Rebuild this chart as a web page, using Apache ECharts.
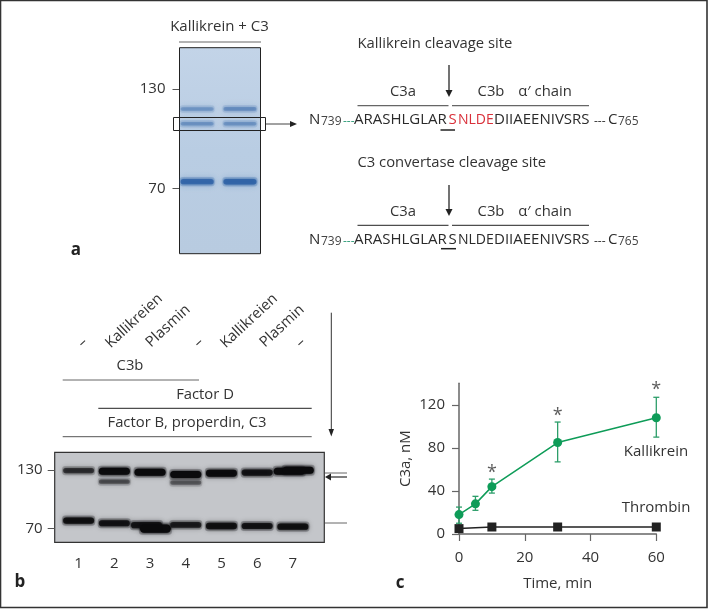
<!DOCTYPE html>
<html>
<head>
<meta charset="utf-8">
<script src="https://cdn.jsdelivr.net/npm/echarts@6/dist/echarts.min.js"></script>
<style>
  html, body { margin: 0; padding: 0; background: #fff; }
  #chart { width: 710px; height: 609px; }
</style>
</head>
<body>
<div id="chart"></div>
<script>
// panel c, time course
var times = [0, 5, 10, 30, 60]
var kallikrein = [18, 28, 44, 85, 108]
var kallikreinHigh = [25, 35, 51, 104, 127]
var kallikreinLow = [10, 22, 38, 67, 90]
var thrombinTimes = [0, 10, 30, 60]
var thrombin = [5, 6.5, 6.5, 6.5]
var stars = [[10, 57], [30, 110], [60, 134]]
var xTicks = [0, 20, 40, 60]
var yTicks = [0, 40, 80, 120]

// gels: [lane, kDa, strength]
var kdaTicks = [70, 130]
var laneNumbers = [1, 2, 3, 4, 5, 6, 7]
var gelABands = [
  [1, 118, 0.3], [2, 118, 0.36],
  [1, 109, 0.32], [2, 109, 0.32],
  [1, 74, 0.8], [2, 74, 0.85]
]
var gelBBands = [
  [1, 129.3, 0.55], [2, 128.6, 1], [3, 127.6, 1], [4, 125.2, 1], [5, 126.6, 0.95], [6, 127.3, 0.8],
  [6.9, 128.6, 1], [7.15, 129.6, 1],
  [2, 118, 0.38], [4, 117, 0.32],
  [1, 78.2, 0.85], [2, 75.5, 0.8], [2.9, 73.5, 0.8], [3.15, 70, 1.3], [4, 73.8, 0.7], [5, 72.7, 0.85], [6, 72.7, 0.8], [7, 72, 0.85]
]

var FONT = '"Open Sans", sans-serif'
var TEXT = '#333'
var SIZE = 14.8

function label(x, y, text, size, extra) {
  return {
    type: 'text', x: x, y: y, silent: true,
    style: Object.assign({
      text: text, fill: TEXT, font: (size || SIZE) + 'px ' + FONT,
      textAlign: 'center', textVerticalAlign: 'middle'
    }, extra || {})
  }
}

function rotated(x, y, text) {
  var el = label(x, y, text, SIZE)
  el.rotation = Math.PI * 43 / 180
  return el
}

function seg(x1, y1, x2, y2, color, width) {
  return {
    type: 'line', silent: true,
    shape: { x1: x1, y1: y1, x2: x2, y2: y2 },
    style: { stroke: color || '#555', lineWidth: width || 1 }
  }
}

function tri(points, color) {
  return { type: 'polygon', silent: true, shape: { points: points }, style: { fill: color || '#222' } }
}

// one sequence row, pieces are placed one by one to follow the original spacing
function sequence(y, red) {
  var out = []
  function piece(x, text, color, size) {
    out.push(label(x, y + (size < 13 ? 2 : 0), text, size || 15, { textAlign: 'left', fill: color || '#2a2a2a' }))
  }
  piece(309, 'N')
  piece(321, '739', '#444', 12)
  piece(343, '---', '#2f9c78', 12)
  piece(354, 'ARASHLGLAR')
  piece(448.5, 'S', red ? '#d9303a' : '#2a2a2a')
  piece(458, 'NLDE', red ? '#d9303a' : '#2a2a2a', 14)
  piece(494, 'DIIAEENIVSRS')
  piece(594, '---', '#333', 12)
  piece(608, 'C')
  piece(618, '765', '#444', 12)
  return out
}

var graphics = [
  // page frame
  { type: 'rect', silent: true, shape: { x: 0.5, y: 0.5, width: 706.5, height: 607 }, style: { fill: 'none', stroke: '#333', lineWidth: 1.6 } },

  // panel a
  label(219.5, 27, 'Kallikrein + C3', 15),
  seg(179, 42, 261, 42, '#666'),
  { type: 'rect', silent: true, z: 10, shape: { x: 173.5, y: 117.5, width: 92, height: 13 }, style: { fill: 'none', stroke: '#222', lineWidth: 1 } },
  seg(266, 124, 292, 124, '#444'),
  tri([[290, 121], [297, 124], [290, 127]]),
  label(76, 250, 'a', 17, { font: 'bold 17px ' + FONT, fill: '#222' }),

  label(357.5, 44, 'Kallikrein cleavage site', SIZE, { textAlign: 'left' }),
  seg(449, 65, 449, 93, '#444', 1.5),
  tri([[445.5, 90], [452.5, 90], [449, 97]]),
  label(403, 92, 'C3a'),
  label(491, 92, 'C3b'),
  label(545, 92, 'α′ chain'),
  seg(357.5, 105.7, 448.5, 105.7, '#666', 1.2),
  seg(452, 105.7, 589, 105.7, '#666', 1.2),
  seg(440.5, 130, 455, 130, '#222', 1.5)
].concat(sequence(120, true), [
  label(357.5, 163, 'C3 convertase cleavage site', SIZE, { textAlign: 'left' }),
  seg(449, 185, 449, 212, '#444', 1.5),
  tri([[445.5, 209], [452.5, 209], [449, 216]]),
  label(403, 212, 'C3a'),
  label(491, 212, 'C3b'),
  label(545, 212, 'α′ chain'),
  seg(357.5, 225.3, 448.5, 225.3, '#222', 1),
  seg(452, 225.3, 589, 225.3, '#222', 1),
  seg(441, 248.7, 456, 248.7, '#222', 1.5)
], sequence(240, false), [
  // panel b
  rotated(82.7, 342.7, '–'),
  rotated(134, 321, 'Kallikreien'),
  rotated(168, 326, 'Plasmin'),
  rotated(198.7, 342.7, '–'),
  rotated(249, 321, 'Kallikreien'),
  rotated(282, 326, 'Plasmin'),
  rotated(300.7, 342.7, '–'),
  label(130, 366, 'C3b'),
  seg(62.7, 380, 199, 380, '#666'),
  label(205, 395, 'Factor D'),
  seg(98.3, 408.3, 311.7, 408.3, '#222'),
  label(187, 423, 'Factor B, properdin, C3'),
  seg(62.7, 436.7, 311.7, 436.7, '#555'),
  seg(331.3, 312.7, 331.3, 431, '#333'),
  tri([[328.5, 429], [334, 429], [331.3, 436.5]]),
  seg(325, 473, 347, 473, '#666'),
  seg(328, 477, 347, 477, '#555', 1.5),
  tri([[331, 473.5], [331, 480.5], [325, 477]]),
  seg(325, 523, 347, 523, '#666'),
  label(20, 582, 'b', 17, { font: 'bold 17px ' + FONT, fill: '#222' }),

  // panel c
  label(656, 452, 'Kallikrein', 15),
  label(656, 508, 'Thrombin', 15),
  label(400, 583, 'c', 17, { font: 'bold 17px ' + FONT, fill: '#222' })
])

// a blurred haze with a sharper core, so the bands read like stained protein
function bandRenderer(bandWidth, color, blur, baseHeight) {
  return function (params, api) {
    var p = api.coord([api.value(0), api.value(1)])
    var s = api.value(2)
    var h = Math.max(3, baseHeight * (0.4 + 0.6 * s))
    return {
      type: 'group',
      children: [
        {
          type: 'rect',
          shape: { x: p[0] - bandWidth / 2 - 1, y: p[1] - h / 2 - 2, width: bandWidth + 2, height: h + 4, r: 3 },
          style: { fill: color, opacity: 0.22 * Math.min(1, s + 0.2), shadowBlur: blur * 2, shadowColor: color }
        },
        {
          type: 'rect',
          shape: { x: p[0] - bandWidth / 2, y: p[1] - h / 2, width: bandWidth, height: h, r: h / 2 },
          style: { fill: color, opacity: Math.min(1, s), shadowBlur: blur, shadowColor: color }
        }
      ]
    }
  }
}

function errorBars(params, api) {
  var top = api.coord([api.value(0), api.value(1)])
  var bottom = api.coord([api.value(0), api.value(2)])
  var cap = 3
  var style = { stroke: '#2d9e6a', lineWidth: 1.3, fill: 'none' }
  return {
    type: 'group',
    children: [
      { type: 'line', shape: { x1: top[0], y1: top[1], x2: bottom[0], y2: bottom[1] }, style: style },
      { type: 'line', shape: { x1: top[0] - cap, y1: top[1], x2: top[0] + cap, y2: top[1] }, style: style },
      { type: 'line', shape: { x1: bottom[0] - cap, y1: bottom[1], x2: bottom[0] + cap, y2: bottom[1] }, style: style }
    ]
  }
}

function gelY(idx, min, max, gap) {
  return {
    gridIndex: idx, type: 'value', min: min, max: max, splitLine: { show: false },
    axisLine: { show: false },
    axisTick: { show: true, length: 7, customValues: kdaTicks, lineStyle: { color: '#555' } },
    axisLabel: { customValues: kdaTicks, margin: gap, color: TEXT, fontSize: 15, fontFamily: FONT }
  }
}

var chart = echarts.init(document.getElementById('chart'), null, { renderer: 'canvas' })
chart.setOption({
  animation: false,
  backgroundColor: '#fff',
  graphic: { elements: graphics },
  grid: [
    { left: 459, top: 383.3, width: 197.3, height: 150.7 },
    {
      left: 179.5, top: 47.7, width: 81, height: 206, show: true, z: 1,
      backgroundColor: new echarts.graphic.LinearGradient(0, 0, 0, 1, [
        { offset: 0, color: '#c3d4e8' }, { offset: 0.5, color: '#b9cde3' }, { offset: 1, color: '#b8cbe0' }
      ]),
      borderColor: '#222', borderWidth: 1
    },
    {
      left: 54.7, top: 452.3, width: 269.6, height: 90, show: true,
      backgroundColor: '#c4c6ca', borderColor: '#333', borderWidth: 1.2
    }
  ],
  xAxis: [
    {
      gridIndex: 0, type: 'value', min: 0, max: 60, splitLine: { show: false },
      axisLine: { lineStyle: { color: '#666', width: 1.5 } },
      axisTick: { length: 7, customValues: xTicks, lineStyle: { color: '#666', width: 1.2 } },
      axisLabel: { customValues: xTicks, margin: 16, color: TEXT, fontSize: 15, fontFamily: FONT },
      name: 'Time, min', nameLocation: 'middle', nameGap: 42,
      nameTextStyle: { color: TEXT, fontSize: 15, fontFamily: FONT }
    },
    { gridIndex: 1, type: 'value', min: 0.588, max: 2.48, show: false },
    {
      gridIndex: 2, type: 'value', min: 0.33, max: 7.88, splitLine: { show: false },
      axisLine: { show: false }, axisTick: { show: false },
      axisLabel: { customValues: laneNumbers, margin: 14, color: TEXT, fontSize: 15, fontFamily: FONT }
    }
  ],
  yAxis: [
    {
      gridIndex: 0, type: 'value', min: 0, max: 140, splitLine: { show: false },
      axisLine: { show: true, lineStyle: { color: '#666', width: 1.5 } },
      axisTick: { show: true, length: 7, customValues: yTicks, lineStyle: { color: '#666', width: 1.2 } },
      axisLabel: { customValues: yTicks, margin: 14, color: TEXT, fontSize: 15, fontFamily: FONT },
      name: 'C3a, nM', nameLocation: 'middle', nameGap: 46,
      nameTextStyle: { color: TEXT, fontSize: 15, fontFamily: FONT }
    },
    gelY(1, 30.5, 155, 14),
    gelY(2, 56, 148, 12)
  ],
  series: [
    {
      type: 'custom', xAxisIndex: 1, yAxisIndex: 1, data: gelABands, clip: true, z: 3,
      renderItem: bandRenderer(33, '#2e62a6', 3, 6)
    },
    {
      type: 'custom', xAxisIndex: 2, yAxisIndex: 2, data: gelBBands, clip: true, z: 3,
      renderItem: bandRenderer(31, '#0a0a0c', 2.5, 7)
    },
    {
      type: 'custom', xAxisIndex: 0, yAxisIndex: 0, z: 3, clip: false,
      data: times.map(function (t, i) { return [t, kallikreinHigh[i], kallikreinLow[i]] }),
      renderItem: errorBars
    },
    {
      type: 'line', xAxisIndex: 0, yAxisIndex: 0, z: 4, clip: false,
      data: thrombinTimes.map(function (t, i) { return [t, thrombin[i]] }),
      symbol: 'rect', symbolSize: 9, showAllSymbol: true,
      lineStyle: { color: '#222', width: 1.5 }, itemStyle: { color: '#222' }
    },
    {
      type: 'line', xAxisIndex: 0, yAxisIndex: 0, z: 5, clip: false,
      data: times.map(function (t, i) { return [t, kallikrein[i]] }),
      symbol: 'circle', symbolSize: 9, showAllSymbol: true,
      lineStyle: { color: '#0e9c58', width: 1.5 }, itemStyle: { color: '#0e9c58' }
    },
    {
      type: 'scatter', xAxisIndex: 0, yAxisIndex: 0, z: 5, clip: false,
      data: stars, symbolSize: 0,
      label: { show: true, position: 'inside', formatter: '*', color: '#333', fontSize: 18, fontFamily: FONT }
    }
  ]
})
</script>
</body>
</html>
